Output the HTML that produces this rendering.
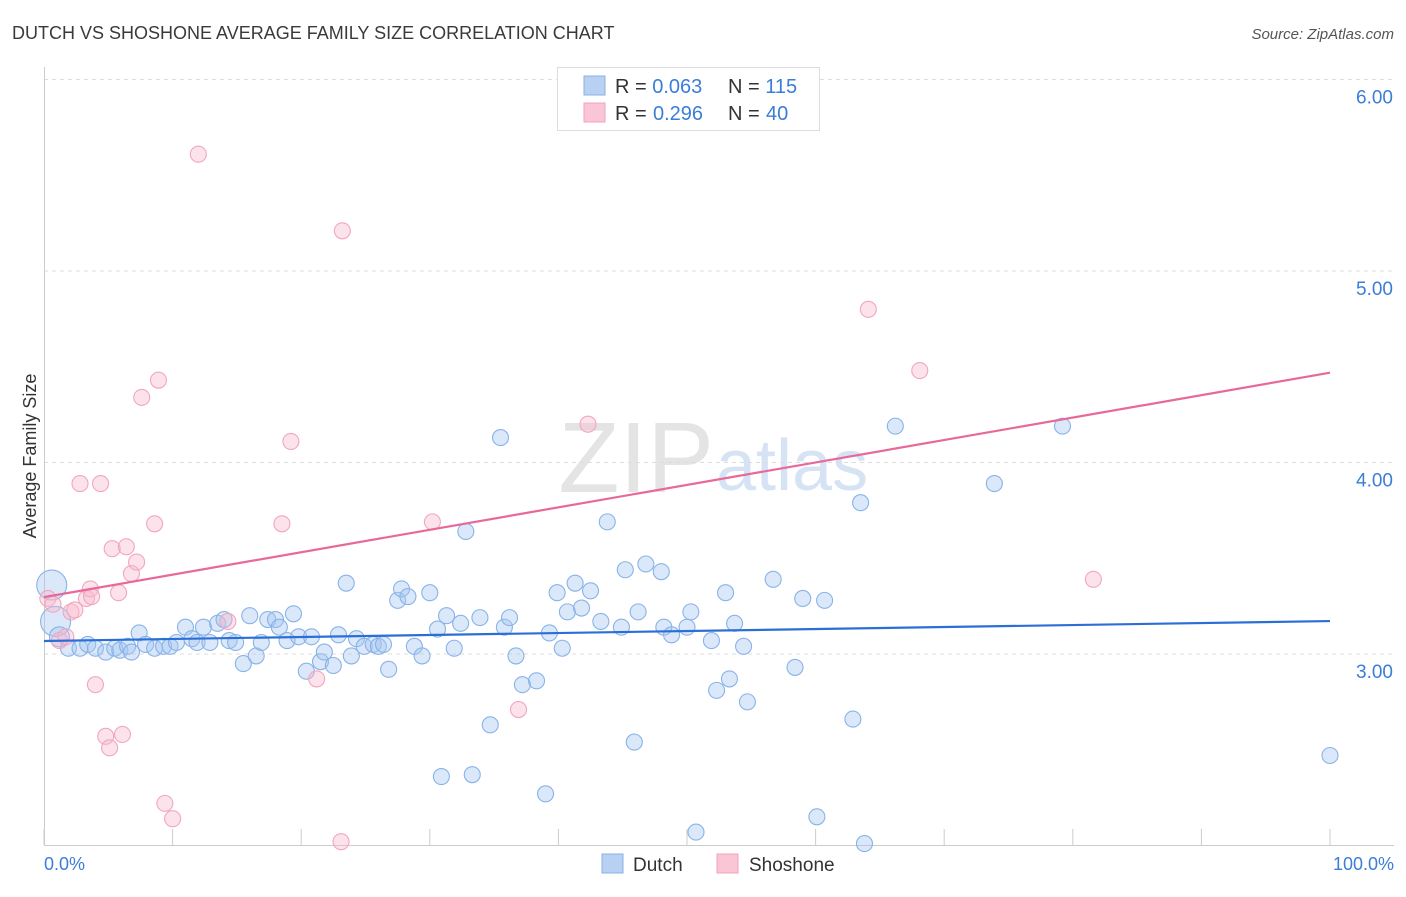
<!DOCTYPE html>
<html><head><meta charset="utf-8"><style>
body{margin:0;background:#fff;font-family:"Liberation Sans",sans-serif;}
svg text{font-family:"Liberation Sans",sans-serif;}
</style></head><body>
<svg id="chart" width="1406" height="892" viewBox="0 0 1406 892">
<text x="12" y="39" font-size="18" fill="#3a3a3a">DUTCH VS SHOSHONE AVERAGE FAMILY SIZE CORRELATION CHART</text>
<text x="1394" y="39" font-size="15" fill="#555" font-style="italic" text-anchor="end">Source: ZipAtlas.com</text>
<text x="714" y="492" font-size="100" fill="#e4e4e4" text-anchor="end" font-family="Liberation Serif">ZIP</text>
<text x="716" y="490" font-size="72" fill="#d6e3f5">atlas</text>
<g id="grid"></g>
<g id="axes"></g>
<g id="marks"></g>
<text x="36" y="456" font-size="18" fill="#333" text-anchor="middle" transform="rotate(-90 36 456)">Average Family Size</text>
<text x="44" y="870" font-size="18" fill="#3b7dd8">0.0%</text>
<text x="1394" y="870" font-size="18" fill="#3b7dd8" text-anchor="end">100.0%</text>
<g>
<rect x="557.5" y="67.5" width="262" height="63" fill="#fff" stroke="#ddd"/>
<rect x="584" y="76" width="21" height="19" fill="#b8d1f3" stroke="#8ab0e6"/>
<rect x="584" y="103" width="21" height="19" fill="#fac6d6" stroke="#f0a3bc"/>
<text x="615" y="93" font-size="20" fill="#333">R = <tspan fill="#3b7dd8">0.063</tspan><tspan x="728">N = </tspan><tspan fill="#3b7dd8">115</tspan></text>
<text x="615" y="120" font-size="20" fill="#333">R = <tspan fill="#3b7dd8" x="653">0.296</tspan><tspan x="728">N = </tspan><tspan fill="#3b7dd8" x="766">40</tspan></text>
</g>
<g>
<rect x="602" y="854" width="21" height="19" fill="#b8d1f3" stroke="#8ab0e6"/>
<text x="633" y="871" font-size="19" fill="#333">Dutch</text>
<rect x="717" y="854" width="21" height="19" fill="#fac6d6" stroke="#f0a3bc"/>
<text x="749" y="871" font-size="19" fill="#333">Shoshone</text>
</g>
</svg>
<script>
const yTicks=[3,4,5,6];
const yTickLabels=["3.00","4.00","5.00","6.00"];
const xTicks=[0,10,20,30,40,50,60,70,80,90,100];
const dutchX=[0.6,0.9,1.2,1.9,2.8,3.4,4.0,4.8,5.5,5.9,6.5,6.8,7.4,7.9,8.6,9.3,9.8,10.3,11.0,11.5,11.9,12.4,12.9,13.5,14.0,14.4,14.9,15.5,16.0,16.5,16.9,17.4,18.0,18.3,18.9,19.4,19.8,20.4,20.8,21.5,21.8,22.5,22.9,23.5,23.9,24.3,24.9,25.6,26.0,26.4,26.8,27.5,27.8,28.3,28.8,29.4,30.0,30.6,30.9,31.3,31.9,32.4,32.8,33.3,33.9,34.7,35.5,35.8,36.2,36.7,37.2,38.3,39.0,39.3,39.9,40.3,40.7,41.3,41.8,42.5,43.3,43.8,44.9,45.2,45.9,46.2,46.8,48.0,48.2,48.8,50.0,50.3,50.7,51.9,52.3,53.0,53.3,53.7,54.4,54.7,56.7,58.4,59.0,60.1,60.7,62.9,63.5,63.8,66.2,73.9,79.2,100];
const dutchY=[3.36,3.17,3.09,3.03,3.03,3.05,3.03,3.01,3.03,3.02,3.04,3.01,3.11,3.05,3.03,3.04,3.04,3.06,3.14,3.08,3.06,3.14,3.06,3.16,3.18,3.07,3.06,2.95,3.20,2.99,3.06,3.18,3.18,3.14,3.07,3.21,3.09,2.91,3.09,2.96,3.01,2.94,3.10,3.37,2.99,3.08,3.04,3.05,3.04,3.05,2.92,3.28,3.34,3.30,3.04,2.99,3.32,3.13,2.36,3.20,3.03,3.16,3.64,2.37,3.19,2.63,4.13,3.14,3.19,2.99,2.84,2.86,2.27,3.11,3.32,3.03,3.22,3.37,3.24,3.33,3.17,3.69,3.14,3.44,2.54,3.22,3.47,3.43,3.14,3.10,3.14,3.22,2.07,3.07,2.81,3.32,2.87,3.16,3.04,2.75,3.39,2.93,3.29,2.15,3.28,2.66,3.79,2.01,4.19,3.89,4.19,2.47];
const shoX=[0.3,0.7,1.2,1.7,2.1,2.4,2.8,3.3,3.6,3.7,4.0,4.4,4.8,5.1,5.3,5.8,6.1,6.4,6.8,7.2,7.6,8.6,8.9,9.4,10.0,12.0,14.3,18.5,19.2,21.2,23.1,23.2,30.2,36.9,42.3,64.1,68.1,81.6];
const shoY=[3.29,3.26,3.07,3.09,3.22,3.23,3.89,3.29,3.34,3.30,2.84,3.89,2.57,2.51,3.55,3.32,2.58,3.56,3.42,3.48,4.34,3.68,4.43,2.22,2.14,5.61,3.17,3.68,4.11,2.87,2.02,5.21,3.69,2.71,4.20,4.80,4.48,3.39];
const dutchTrend=[3.068,3.172];
const shoTrend=[3.297,4.469];
const NS='http://www.w3.org/2000/svg';
const sx=v=>44+v*12.86;
const sy=v=>654-(v-3)*191.5;
function mk(tag,attrs,parent){const e=document.createElementNS(NS,tag);for(const k in attrs)e.setAttribute(k,attrs[k]);parent.appendChild(e);return e;}
const grid=document.getElementById('grid'),axes=document.getElementById('axes'),marks=document.getElementById('marks');
yTicks.forEach((t,i)=>{
 const l=mk('line',{x1:44,x2:1394,y1:sy(t),y2:sy(t),stroke:'#dcdcdc','stroke-dasharray':'4,4'},grid);
 
 
 const tx=mk('text',{x:1393,y:sy(t)+24,'font-size':19,fill:'#3b7dd8','text-anchor':'end'},grid);
 tx.textContent=yTickLabels[i];
 
 
});
const ya=mk('line',{x1:44.5,x2:44.5,y1:67,y2:845,stroke:'#ccc'},axes);


const xa=mk('line',{x1:44,x2:1394,y1:845.5,y2:845.5,stroke:'#ccc'},axes);


xTicks.forEach(t=>{
 const l=mk('line',{x1:sx(t),x2:sx(t),y1:829,y2:845,stroke:'#ccc'},axes);
 
 
});
dutchX.forEach((x,i)=>{
 const big=i<2;
 const c=mk('circle',{cx:sx(x),cy:sy(dutchY[i]),r:big?15:(i==2?10:8),fill:'rgba(165,198,240,0.4)',stroke:'#88b3e8','stroke-width':1.1},marks);
 
 
});
shoX.forEach((x,i)=>{
 const c=mk('circle',{cx:sx(x),cy:sy(shoY[i]),r:8,fill:'rgba(248,185,205,0.4)',stroke:'#f2a6be','stroke-width':1.1},marks);
 
 
});
const dl=mk('line',{x1:sx(0),y1:sy(dutchTrend[0]),x2:sx(100),y2:sy(dutchTrend[1]),stroke:'#2b6fd6','stroke-width':2.2},marks);


const sl=mk('line',{x1:sx(0),y1:sy(shoTrend[0]),x2:sx(100),y2:sy(shoTrend[1]),stroke:'#e8689a','stroke-width':2.2},marks);


</script>
</body></html>
